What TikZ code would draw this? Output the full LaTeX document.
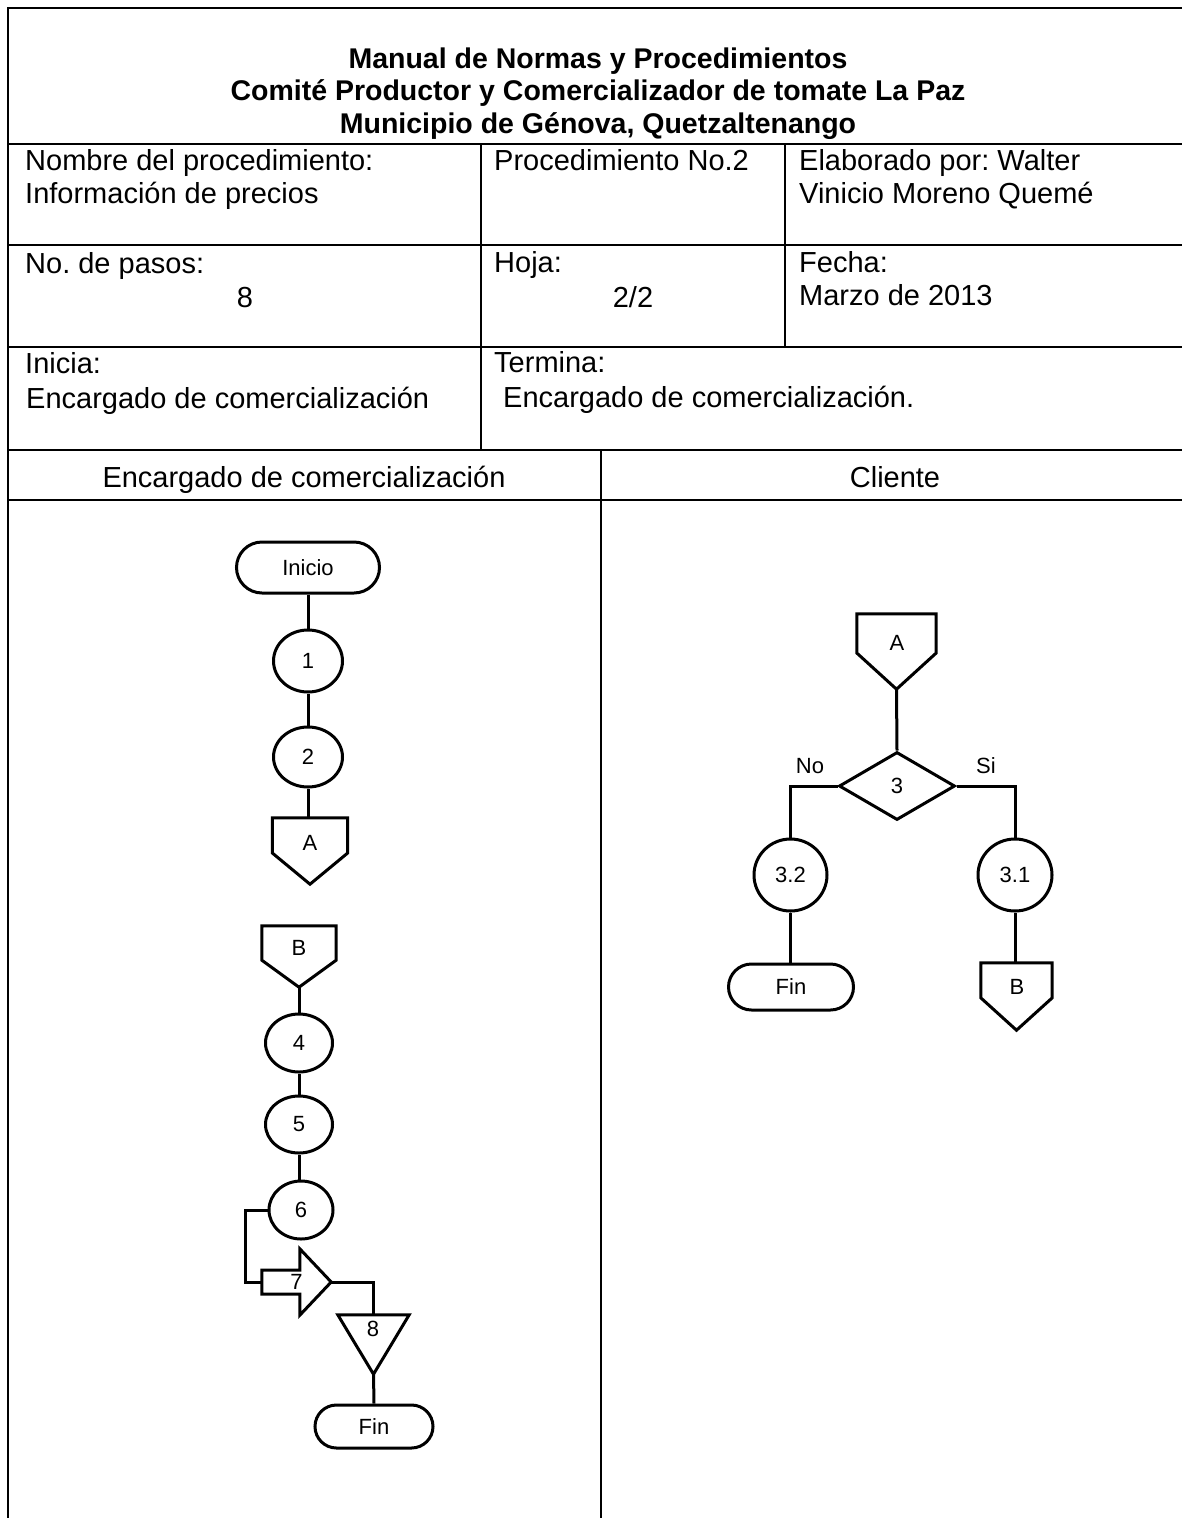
\documentclass[tikz,border=0pt]{standalone}
\usepackage{fontspec}
\setmainfont{Liberation Sans}
\usetikzlibrary{shapes.geometric,shapes.misc,calc}
\newcommand\offpageshape[2]{\draw[shp] (#1.north west) -- (#1.north east) -- ($(#1.north east)!#2!(#1.south east)$) -- (#1.south) -- ($(#1.north west)!#2!(#1.south west)$) -- cycle;}
\begin{document}
\frenchspacing
\begin{tikzpicture}[x=1pt,y=-1pt,
  tbl/.style={line width=2.2pt},
  txt/.style={font=\fontsize{29}{33}\selectfont, anchor=base west, inner sep=0},
  ctxt/.style={font=\fontsize{29}{33}\selectfont, anchor=base, inner sep=0},
  ttl/.style={font=\bfseries\fontsize{28.5}{32}\selectfont, anchor=base, inner sep=0},
  fc/.style={draw, line width=3pt, inner sep=0, font=\fontsize{22}{26}\selectfont},
  term/.style={fc, rounded rectangle},
  proc/.style={fc, ellipse},
  dec/.style={fc, diamond},
  bbx/.style={inner sep=0, font=\fontsize{22}{26}\selectfont},
  shp/.style={line width=3pt, line join=miter},
  link/.style={line width=3pt},
  lbl/.style={font=\fontsize{22}{26}\selectfont, inner sep=0}
]
\useasboundingbox (0,0) rectangle (1182,1518);
\fill[white] (0,0) rectangle (1182,1518);

% ---------- table ----------
\draw[tbl] (1182,8) -- (8,8) -- (8,1518);
\draw[tbl] (8,144) -- (1182,144);
\draw[tbl] (8,245) -- (1182,245);
\draw[tbl] (8,347) -- (1182,347);
\draw[tbl] (8,450) -- (1182,450);
\draw[tbl] (8,500) -- (1182,500);
\draw[tbl] (481,144) -- (481,450);
\draw[tbl] (785,144) -- (785,347);
\draw[tbl] (601,450) -- (601,1518);

\node[ttl] (t1) at (598,68) {Manual de Normas y Procedimientos};
\node[ttl] (t2) at (598,100) {Comité Productor y Comercializador de tomate La Paz};
\node[ttl] (t3) at (598,133) {Municipio de Génova, Quetzaltenango};

\node[txt] (r1a) at (25,170) {Nombre del procedimiento:};
\node[txt] (r1b) at (25,203) {Información de precios};
\node[txt] (r1c) at (494,170) {Procedimiento No.2};
\node[txt] (r1d) at (799,170) {Elaborado por: Walter};
\node[txt] (r1e) at (799,203) {Vinicio Moreno Quemé};

\node[txt] (r2a) at (25,273) {No. de pasos:};
\node[ctxt] (r2b) at (245,307) {8};
\node[txt] (r2c) at (494,272) {Hoja:};
\node[ctxt] (r2d) at (633,307) {2/2};
\node[txt] (r2e) at (799,272) {Fecha:};
\node[txt] (r2f) at (799,305) {Marzo de 2013};

\node[txt] (r3a) at (25,373) {Inicia:};
\node[txt] (r3b) at (26,408) {Encargado de comercialización};
\node[txt] (r3c) at (494,372) {Termina:};
\node[txt] (r3d) at (503,407) {Encargado de comercialización.};

\node[ctxt] (h1) at (304,487) {Encargado de comercialización};
\node[ctxt] (h2) at (895,487) {Cliente};

% ---------- left lane, first part ----------
\node[term, minimum width=143pt, minimum height=51pt] (ini) at (308,567.5) {Inicio};
\node[proc, minimum width=69pt, minimum height=62pt] (c1) at (308,661) {1};
\node[proc, minimum width=69pt, minimum height=60pt] (c2) at (308,757) {2};
\node[bbx, minimum width=75pt, minimum height=66pt] (A1) at (310,851) {};
\offpageshape{A1}{0.53}
\node[lbl] (A1t) at (310,843) {A};

\draw[link] (ini) -- (c1);
\draw[link] (c1) -- (c2);
\draw[link] (c2.south) -- (c2.south |- A1.north);

% ---------- left lane, second part ----------
\node[bbx, minimum width=74pt, minimum height=61pt] (B1) at (299,956.5) {};
\offpageshape{B1}{0.56}
\node[lbl] (B1t) at (299,948) {B};
\node[proc, minimum width=67pt, minimum height=58pt] (c4) at (299,1043) {4};
\node[proc, minimum width=67pt, minimum height=57pt] (c5) at (299,1124.5) {5};
\node[proc, minimum width=64pt, minimum height=58pt] (c6) at (301,1210) {6};
\node[bbx, minimum width=69pt, minimum height=66pt] (n7) at (296.5,1282) {7};
\draw[shp] ([yshift=12pt]n7.west) -- ([xshift=38pt,yshift=12pt]n7.west) -- ([xshift=38pt]n7.north west) -- (n7.east) -- ([xshift=38pt]n7.south west) -- ([xshift=38pt,yshift=-12pt]n7.west) -- ([yshift=-12pt]n7.west) -- cycle;
\node[bbx, minimum width=71pt, minimum height=59pt] (t8) at (373.5,1344.5) {};
\draw[shp] (t8.north west) -- (t8.north east) -- (t8.south) -- cycle;
\node[lbl] (t8t) at (373,1329) {8};
\node[term, minimum width=118pt, minimum height=43pt] (fin1) at (374,1426.5) {Fin};

\draw[link] (B1.south) -- (c4.north);
\draw[link] (c4) -- (c5);
\draw[link] (c5.south) -- (c5.south |- c6.north);
\draw[link] (c6.west) -- ++(-22,0) |- (n7.west);
\draw[link] (n7.east) -| (t8.north);
\draw[link] (t8.south) -- (fin1.north);

% ---------- right lane ----------
\node[bbx, minimum width=79pt, minimum height=75pt] (A2) at (896.5,651.5) {};
\offpageshape{A2}{0.52}
\node[lbl] (A2t) at (897,643) {A};
\node[dec, minimum width=116pt, minimum height=68pt] (d3) at (897,786) {3};
\node[proc, minimum width=73pt, minimum height=72pt] (c32) at (790.5,875) {3.2};
\node[proc, minimum width=74pt, minimum height=72pt] (c31) at (1015,875) {3.1};
\node[term, minimum width=125pt, minimum height=46pt] (fin2) at (791,987) {Fin};
\node[bbx, minimum width=71pt, minimum height=67pt] (B3) at (1016.5,996.5) {};
\offpageshape{B3}{0.52}
\node[lbl] (B3t) at (1017,987) {B};
\node[lbl] (no) at (810,766) {No};
\node[lbl] (si) at (986,766) {Si};

\draw[link] (A2.south) -- (d3.north);
\draw[link] (d3.west) -| (c32.north);
\draw[link] (d3.east) -| (c31.north);
\draw[link] (c32.south) -- (c32.south |- fin2.north);
\draw[link] (c31.south) -- (c31.south |- B3.north);
\end{tikzpicture}
\end{document}
